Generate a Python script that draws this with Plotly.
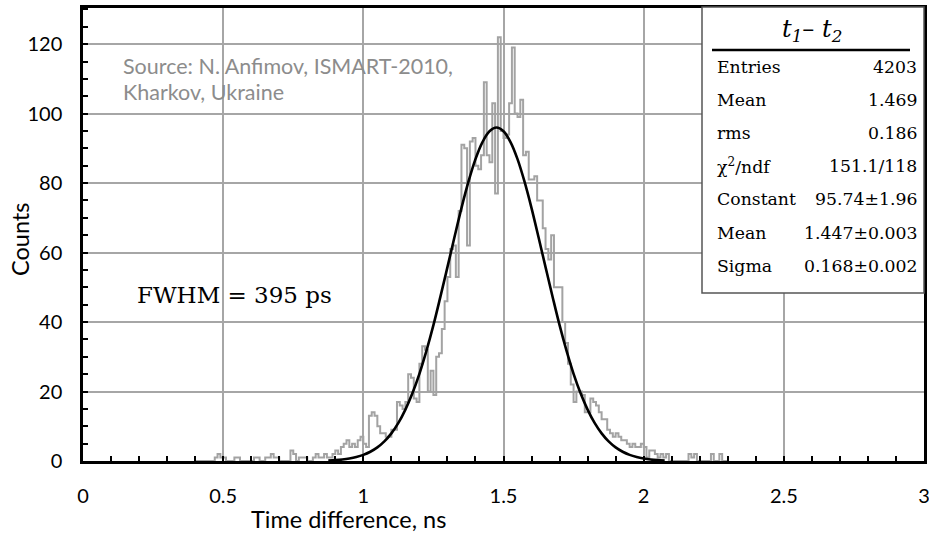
import plotly.graph_objects as go

# ---------------- data ----------------
bin_width = 0.01
first_edge = 0.40
counts = [
    0, 0, 0, 0, 0, 0, 0, 1, 2, 1,            # 0.40-0.49
    1, 0, 0, 0, 1, 1, 0, 0, 0, 0,            # 0.50-0.59
    0, 1, 1, 0, 0, 1, 1, 2, 1, 1,            # 0.60-0.69
    0, 0, 0, 0, 3, 2, 0, 1, 1, 1,            # 0.70-0.79
    0, 0, 1, 2, 1, 1, 2, 1, 1, 2,            # 0.80-0.89
    3, 2, 4, 5, 6, 4, 5, 4, 6, 7,            # 0.90-0.99
    5, 4, 13, 14, 13, 10, 8, 8, 7, 7,        # 1.00-1.09
    9, 9, 17, 16, 15, 17, 25, 24, 18, 17,    # 1.10-1.19
    28, 33, 32, 20, 26, 19, 30, 31, 38, 46,  # 1.20-1.29
    53, 61, 62, 53, 72, 91, 90, 62, 92, 93,  # 1.30-1.39
    85, 84, 88, 109, 88, 86, 103, 77, 122, 95,   # 1.40-1.49
    93, 94, 103, 119, 100, 99, 104, 88, 89, 81,  # 1.50-1.59
    81, 82, 75, 75, 67, 61, 58, 65, 50, 50,  # 1.60-1.69
    50, 40, 34, 28, 22, 17, 20, 20, 19, 14,  # 1.70-1.79
    14, 18, 17, 16, 14, 12, 12, 9, 8, 7,     # 1.80-1.89
    8, 7, 6, 6, 5, 4, 5, 4, 4, 5,            # 1.90-1.99
    4, 1, 3, 3, 2, 1, 2, 1, 2, 0,            # 2.00-2.09
    0, 0, 0, 0, 0, 0, 2, 1, 2, 0,            # 2.10-2.19
    0, 0, 0, 0, 2, 0, 0, 2, 0, 0,            # 2.20-2.29
]

fit_x = [0.875, 0.900, 0.925, 0.950, 0.975, 1.000, 1.025, 1.050, 1.075, 1.100,
         1.125, 1.150, 1.175, 1.200, 1.225, 1.250, 1.275, 1.300, 1.325, 1.350,
         1.375, 1.400, 1.425, 1.450, 1.475, 1.500, 1.525, 1.550, 1.575, 1.600,
         1.625, 1.650, 1.675, 1.700, 1.725, 1.750, 1.775, 1.800, 1.825, 1.850,
         1.875, 1.900, 1.925, 1.950, 1.975, 2.000, 2.025, 2.050, 2.075]
fit_y = [0.16, 0.27, 0.45, 0.73, 1.15, 1.76, 2.66, 3.91, 5.64, 7.95,
         10.96, 14.8, 19.5, 25.1, 31.7, 39.1, 47.3, 55.8, 64.4, 72.8,
         80.4, 86.9, 91.8, 94.9, 96.0, 94.9, 91.8, 86.9, 80.4, 72.8,
         64.4, 55.8, 47.3, 39.1, 31.7, 25.1, 19.5, 14.8, 10.96, 7.95,
         5.64, 3.91, 2.66, 1.76, 1.15, 0.73, 0.45, 0.27, 0.16]

x_ticks = [0, 0.5, 1, 1.5, 2, 2.5, 3]
y_ticks = [0, 20, 40, 60, 80, 100, 120]

stats_title = "<i>t</i><sub><i>1</i></sub>– <i>t</i><sub><i>2</i></sub>"
stats_labels = ["Entries", "Mean", "rms", "χ<sup>2</sup>/ndf", "Constant", "Mean", "Sigma"]
stats_values = ["4203", "1.469", "0.186", "151.1/118", "95.74±1.96", "1.447±0.003", "0.168±0.002"]

source_lines = ["Source: N. Anfimov, ISMART-2010,", "Kharkov, Ukraine"]
fwhm_text = "FWHM = 395 ps"
x_title = "Time difference, ns"
y_title = "Counts"

# ---------------- geometry ----------------
W, H = 929, 535
L, R, T, B = 83, 5, 8, 74
pw, ph = W - L - R, H - T - B


def fx(px):
    return (px - L) / pw


def fy(py):
    return (H - B - py) / ph


edges = [round(first_edge + i * bin_width, 4) for i in range(len(counts) + 1)]
ys = counts + [counts[-1]]

fig = go.Figure()
fig.add_trace(go.Scatter(x=edges, y=ys, mode="lines", line_shape="hv",
                         line=dict(color="#a3a3a3", width=2), hoverinfo="skip",
                         showlegend=False))
fig.add_trace(go.Scatter(x=fit_x, y=fit_y, mode="lines", line_shape="spline",
                         line=dict(color="black", width=2.6), hoverinfo="skip",
                         showlegend=False))

grid = "#a6a6a6"
axis_common = dict(showgrid=True, gridcolor=grid, gridwidth=1.5, zeroline=False,
                   showline=True, linecolor="black", linewidth=2.5, mirror=True,
                   ticks="inside", ticklen=5, tickwidth=1.5, tickcolor="black",
                   automargin=False, ticklabeloverflow="allow",
                   tickfont=dict(family="Lato", size=20, color="black"))

fig.update_xaxes(range=[0, 3], tickvals=x_ticks, ticktext=[str(v) for v in x_ticks],
                 minor=dict(dtick=0.1, tick0=0, ticks="inside", ticklen=5, tickwidth=1.5,
                            tickcolor="black", showgrid=False),
                 ticklabelstandoff=15, **axis_common)
fig.update_yaxes(range=[0, 130.4], tickvals=y_ticks, ticktext=[str(v) for v in y_ticks],
                 minor=dict(dtick=5, tick0=0, ticks="inside", ticklen=5, tickwidth=1.5,
                            tickcolor="black", showgrid=False),
                 ticklabelstandoff=14, **axis_common)

shapes = [
    dict(type="rect", xref="paper", yref="paper", x0=fx(702), x1=fx(924), y0=fy(293), y1=fy(7),
         fillcolor="white", line=dict(color="#555555", width=1.5), layer="above"),
    dict(type="line", xref="paper", yref="paper", x0=fx(712), x1=fx(910), y0=fy(50), y1=fy(50),
         line=dict(color="black", width=2.5), layer="above"),
]

ann = []
ann.append(dict(text=stats_title, xref="paper", yref="paper", x=fx(812), y=fy(30),
                xanchor="center", yanchor="middle", showarrow=False,
                font=dict(family="DejaVu Serif", size=24, color="black")))
row_y = [67, 100, 133, 166, 199, 233, 266]
for lab, val, py in zip(stats_labels, stats_values, row_y):
    ann.append(dict(text=lab, xref="paper", yref="paper", x=fx(715), y=fy(py),
                    xanchor="left", yanchor="middle", showarrow=False,
                    font=dict(family="DejaVu Serif", size=17.3, color="black")))
    ann.append(dict(text=val, xref="paper", yref="paper", x=fx(919), y=fy(py),
                    xanchor="right", yanchor="middle", showarrow=False,
                    font=dict(family="DejaVu Serif", size=17.3, color="black")))

for line, py in zip(source_lines, [66, 92]):
    ann.append(dict(text=line, xref="paper", yref="paper", x=fx(121), y=fy(py),
                    xanchor="left", yanchor="middle", showarrow=False,
                    font=dict(family="Lato", size=21.5, color="#8c8c8c")))

ann.append(dict(text=fwhm_text, xref="paper", yref="paper", x=fx(135), y=fy(295),
                xanchor="left", yanchor="middle", showarrow=False,
                font=dict(family="DejaVu Serif", size=23, color="black")))

ann.append(dict(text=x_title, xref="paper", yref="paper", x=fx(348), y=fy(519),
                xanchor="center", yanchor="middle", showarrow=False,
                font=dict(family="Lato", size=23.5, color="black")))
ann.append(dict(text=y_title, xref="paper", yref="paper", x=fx(20), y=fy(240),
                xanchor="center", yanchor="middle", showarrow=False, textangle=-90,
                font=dict(family="Lato", size=23.5, color="black")))

fig.update_layout(width=W, height=H, margin=dict(l=L, r=R, t=T, b=B, autoexpand=False),
                  paper_bgcolor="white", plot_bgcolor="white",
                  shapes=shapes, annotations=ann, showlegend=False)

fig.write_html("out.html", config={"displayModeBar": False},
               post_script="document.body.style.margin='0px';")
